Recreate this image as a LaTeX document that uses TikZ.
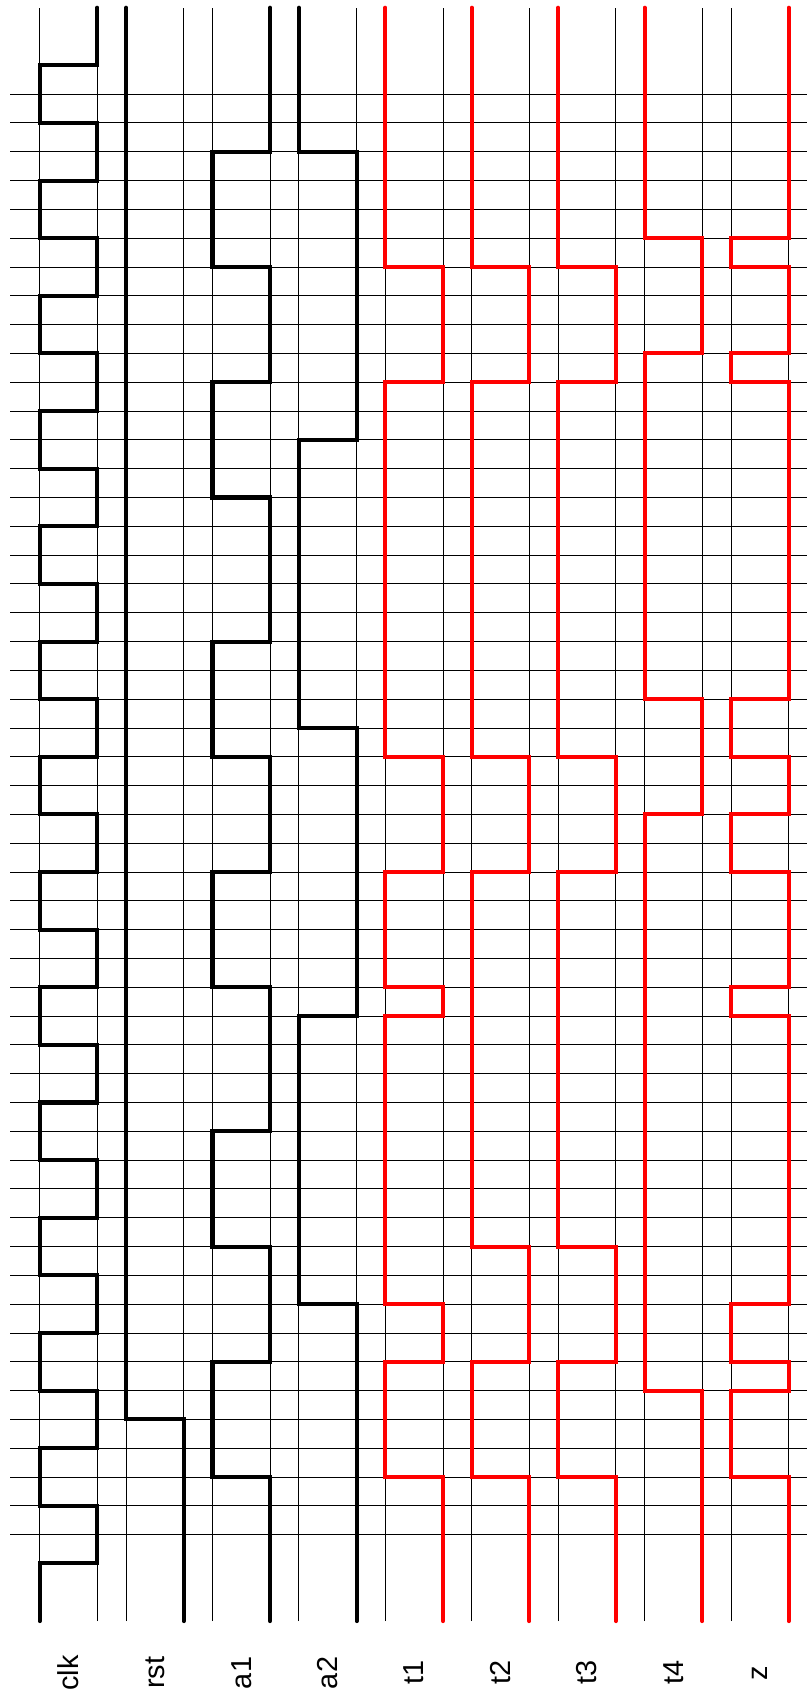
\documentclass[tikz,border=0pt]{standalone}
\usepackage{fontspec}
\setmainfont{Liberation Sans}
\begin{document}
\begin{tikzpicture}[x=1cm,y=1cm,
  gridline/.style={black,line width=0.9pt},
  wave/.style={black,line width=4pt,line cap=round,line join=miter},
  redwave/.style={wave,red},
  siglabel/.style={rotate=90,font=\fontsize{28.5}{34}\selectfont,inner sep=0pt}]
\useasboundingbox (0,0) rectangle (28.011,58.868);
% horizontal grid lines (t = 3 ... 53)
\foreach \t in {3,...,53}{
  \draw[gridline] (0.35,2.6+\t) -- (28.011,2.6+\t);
}
% vertical grid lines: two per lane
\foreach \i in {0,...,8}{
  \draw[gridline] (1.375+3*\i,2.6) -- (1.375+3*\i,58.6);
  \draw[gridline] (3.375+3*\i,2.6) -- (3.375+3*\i,58.6);
}
% clk
\begin{scope}[shift={(1.375,2.6)}]
\draw[wave] (0,0)--(0,2)--(2,2)--(2,4)--(0,4)--(0,6)--(2,6)--(2,8)--(0,8)--(0,10)--(2,10)--(2,12)--(0,12)--(0,14)--(2,14)--(2,16)--(0,16)--(0,18)--(2,18)--(2,20)--(0,20)--(0,22)--(2,22)--(2,24)--(0,24)--(0,26)--(2,26)--(2,28)--(0,28)--(0,30)--(2,30)--(2,32)--(0,32)--(0,34)--(2,34)--(2,36)--(0,36)--(0,38)--(2,38)--(2,40)--(0,40)--(0,42)--(2,42)--(2,44)--(0,44)--(0,46)--(2,46)--(2,48)--(0,48)--(0,50)--(2,50)--(2,52)--(0,52)--(0,54)--(2,54)--(2,56);
\end{scope}
% rst
\begin{scope}[shift={(4.375,2.6)}]
\draw[wave] (2,0)--(2,7)--(0,7)--(0,56);
\end{scope}
% a1
\begin{scope}[shift={(7.375,2.6)}]
\draw[wave] (2,0)--(2,5)--(0,5)--(0,9)--(2,9)--(2,13)--(0,13)--(0,17)--(2,17)--(2,22)--(0,22)--(0,26)--(2,26)--(2,30)--(0,30)--(0,34)--(2,34)--(2,39)--(0,39)--(0,43)--(2,43)--(2,47)--(0,47)--(0,51)--(2,51)--(2,56);
\end{scope}
% a2
\begin{scope}[shift={(10.375,2.6)}]
\draw[wave] (2,0)--(2,11)--(0,11)--(0,21)--(2,21)--(2,31)--(0,31)--(0,41)--(2,41)--(2,51)--(0,51)--(0,56);
\end{scope}
% t1
\begin{scope}[shift={(13.375,2.6)}]
\draw[redwave] (2,0)--(2,5)--(0,5)--(0,9)--(2,9)--(2,11)--(0,11)--(0,21)--(2,21)--(2,22)--(0,22)--(0,26)--(2,26)--(2,30)--(0,30)--(0,43)--(2,43)--(2,47)--(0,47)--(0,56);
\end{scope}
% t2
\begin{scope}[shift={(16.375,2.6)}]
\draw[redwave] (2,0)--(2,5)--(0,5)--(0,9)--(2,9)--(2,13)--(0,13)--(0,26)--(2,26)--(2,30)--(0,30)--(0,43)--(2,43)--(2,47)--(0,47)--(0,56);
\end{scope}
% t3
\begin{scope}[shift={(19.375,2.6)}]
\draw[redwave] (2,0)--(2,5)--(0,5)--(0,9)--(2,9)--(2,13)--(0,13)--(0,26)--(2,26)--(2,30)--(0,30)--(0,43)--(2,43)--(2,47)--(0,47)--(0,56);
\end{scope}
% t4
\begin{scope}[shift={(22.375,2.6)}]
\draw[redwave] (2,0)--(2,8)--(0,8)--(0,28)--(2,28)--(2,32)--(0,32)--(0,44)--(2,44)--(2,48)--(0,48)--(0,56);
\end{scope}
% z
\begin{scope}[shift={(25.375,2.6)}]
\draw[redwave] (2,0)--(2,5)--(0,5)--(0,8)--(2,8)--(2,9)--(0,9)--(0,11)--(2,11)--(2,21)--(0,21)--(0,22)--(2,22)--(2,26)--(0,26)--(0,28)--(2,28)--(2,30)--(0,30)--(0,32)--(2,32)--(2,43)--(0,43)--(0,44)--(2,44)--(2,47)--(0,47)--(0,48)--(2,48)--(2,56);
\end{scope}
% labels
\node[siglabel] (lclk) at (2.375,0.8) {clk};
\node[siglabel] (lrst) at (5.375,0.8) {rst};
\node[siglabel] (la1)  at (8.375,0.8) {a1};
\node[siglabel] (la2)  at (11.375,0.8) {a2};
\node[siglabel] (lt1)  at (14.375,0.8) {t1};
\node[siglabel] (lt2)  at (17.375,0.8) {t2};
\node[siglabel] (lt3)  at (20.375,0.8) {t3};
\node[siglabel] (lt4)  at (23.375,0.8) {t4};
\node[siglabel] (lz)   at (26.375,0.8) {z};
\end{tikzpicture}
\end{document}
